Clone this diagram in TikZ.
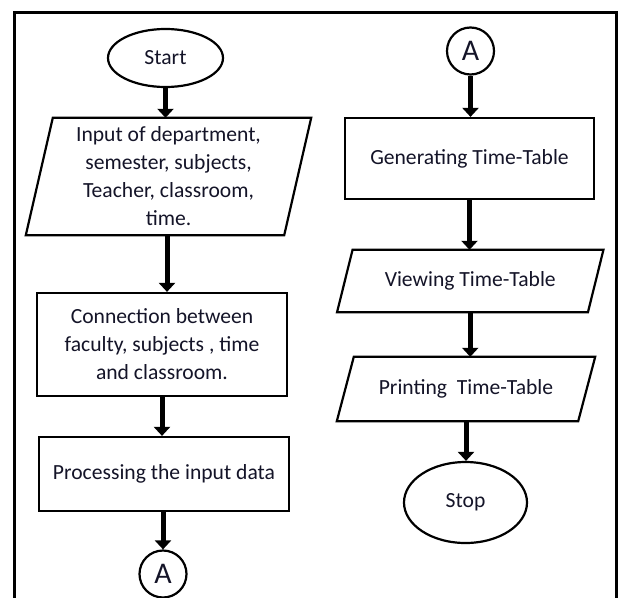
\documentclass[tikz,border=0pt]{standalone}
\usepackage{fontspec}
\setmainfont{Carlito}
\usetikzlibrary{arrows.meta,shapes.geometric}
\definecolor{inkc}{RGB}{20,20,40}
\newcommand\slantbox[2]{\draw[line width=2.2pt,line join=miter] ([xshift=#2]#1.north west) -- ([xshift=#2]#1.north east) -- ([xshift=-#2]#1.south east) -- ([xshift=-#2]#1.south west) -- cycle;}
\tikzset{
  every node/.style={font=\fontsize{21.6}{28}\selectfont, text=inkc, align=center, inner sep=0pt},
  procbox/.style={draw, line width=2.2pt, rectangle},
  iobox/.style={draw=none, rectangle},
  term/.style={draw, line width=2.2pt, ellipse},
  connector/.style={draw, line width=2.2pt, circle, minimum size=47, font=\fontsize{30}{30}\selectfont},
  flow/.style={line width=5pt, -{Triangle[width=16pt,length=9pt]}},
  frameline/.style={line width=3pt},
}
\begin{document}
\begin{tikzpicture}[x=1pt,y=-1pt]
\useasboundingbox (0,0) rectangle (620,597);
\clip (0,0) rectangle (620,597);
\fill[white] (0,0) rectangle (620,597);
\draw[frameline] (14,605) -- (14,12) -- (616,12) -- (616,605);
% left column
\node[term, minimum width=115, minimum height=58] (start) at (165.5,58) {Start};
\node[iobox, minimum width=258, minimum height=117] (inp) at (168.5,176.5) {Input of department,\\semester, subjects,\\Teacher, classroom,\\time.};
\slantbox{inp}{13.5}
\node[procbox, minimum width=250, minimum height=103] (link) at (162,344.5) {Connection between\\faculty, subjects , time\\and classroom.};
\node[procbox, minimum width=250, minimum height=74] (proc) at (164,474) {Processing the input data};
\node[connector] (aout) at (163,574) {A};
% right column
\node[connector] (ain) at (470.5,51) {A};
\node[procbox, minimum width=249, minimum height=81] (gen) at (469.5,158.5) {Generating Time-Table};
\node[iobox, minimum width=250.5, minimum height=62] (view) at (470.25,281) {Viewing Time-Table};
\slantbox{view}{7.75}
\node[iobox, minimum width=241, minimum height=64] (print) at (466,389) {Printing\hspace{.45em}Time-Table};
\slantbox{print}{8.5}
\node[term, minimum width=123, minimum height=81] (stop) at (465.5,502.5) {Stop};
% connectors
\draw[flow] (start.south) -- (start.south |- inp.north);
\draw[flow] ([xshift=-1.5]inp.south) -- ([xshift=-1.5]inp.south |- link.north);
\draw[flow] (link.south) -- (link.south |- proc.north);
\draw[flow] (proc.south -| aout.north) -- (aout.north);
\draw[flow] (ain.south) -- (ain.south |- gen.north);
\draw[flow] (gen.south) -- (gen.south |- view.north);
\draw[flow] (view.south) -- (view.south |- print.north);
\draw[flow] (print.south) -- (print.south |- stop.north);
\end{tikzpicture}
\end{document}
